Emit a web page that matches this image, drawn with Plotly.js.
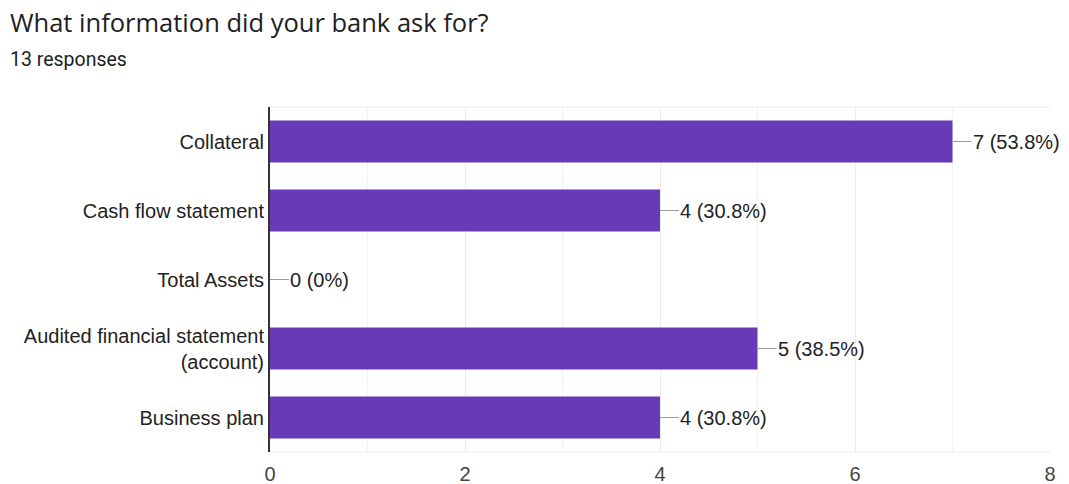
<!DOCTYPE html>
<html>
<head>
<meta charset="utf-8">
<script src="https://cdn.plot.ly/plotly-3.0.1.min.js"></script>
<style>html,body{margin:0;padding:0;background:#fff;}#chart{width:1069px;height:484px;}</style>
</head>
<body>
<div id="chart"></div>
<script>
const categories = ["Collateral", "Cash flow statement", "Total Assets", "Audited financial statement<br>(account)", "Business plan"];
const counts = [7, 4, 0, 5, 4];
const labels = ["7 (53.8%)", "4 (30.8%)", "0 (0%)", "5 (38.5%)", "4 (30.8%)"];
const tickValues = [0, 2, 4, 6, 8];
const titleText = "What information did your bank ask for?";
const subtitleText = "13 responses";

const labelFont = {family: "Liberation Sans, Arial, sans-serif", size: 20, color: "#222"};

const trace = {
  type: "bar",
  orientation: "h",
  x: counts,
  y: categories,
  marker: {color: "#673ab7"},
  hoverinfo: "none",
  width: 0.61
};

const annotations = categories.map((c, i) => ({
  x: counts[i], y: c, xref: "x", yref: "y",
  text: labels[i],
  showarrow: true, arrowhead: 0, arrowwidth: 1, arrowcolor: "#9e9e9e",
  ax: 19, ay: 0, standoff: 0, startstandoff: 0,
  xanchor: "left", yanchor: "middle", borderpad: 0,
  font: labelFont
}));

annotations.push({
  xref: "paper", yref: "paper", x: -262/780, y: 1 + 85/345,
  xanchor: "left", yanchor: "middle", showarrow: false,
  text: titleText,
  font: {family: "Open Sans, Roboto, sans-serif", size: 25.5, color: "#202124"}
});
annotations.push({
  xref: "paper", yref: "paper", x: -262/780, y: 1 + 47/345,
  xanchor: "left", yanchor: "middle", showarrow: false,
  text: subtitleText,
  font: {family: "Roboto, Arial, sans-serif", size: 19.5, color: "#202124"}
});

const layout = {
  width: 1069, height: 484,
  margin: {l: 270, r: 19, t: 107, b: 32, pad: 0},
  paper_bgcolor: "#fff", plot_bgcolor: "#fff",
  showlegend: false,
  xaxis: {
    range: [0, 8], tickvals: tickValues, ticktext: tickValues.map(String),
    showgrid: true, gridcolor: "#ebebeb", gridwidth: 1,
    minor: {dtick: 1, showgrid: true, gridcolor: "#f2f2f2", gridwidth: 1},
    zeroline: false, showline: false,
    tickfont: {family: "Liberation Sans, Arial, sans-serif", size: 20, color: "#444"},
    ticks: "", ticklen: 0, ticklabelstandoff: 8, fixedrange: true
  },
  yaxis: {
    categoryorder: "array", categoryarray: categories, autorange: "reversed",
    showline: true, linecolor: "#333", linewidth: 2,
    showgrid: false, zeroline: false, ticks: "", ticklabelstandoff: 0,
    tickfont: labelFont,
    fixedrange: true
  },
  shapes: [
    {type: "line", xref: "paper", yref: "paper", x0: 0, x1: 1, y0: 1, y1: 1, line: {color: "#ebebeb", width: 1}},
    {type: "line", xref: "paper", yref: "paper", x0: 0, x1: 1, y0: 0, y1: 0, line: {color: "#ebebeb", width: 1}}
  ],
  annotations: annotations
};

Plotly.newPlot("chart", [trace], layout, {displayModeBar: false, staticPlot: true});
</script>
</body>
</html>
